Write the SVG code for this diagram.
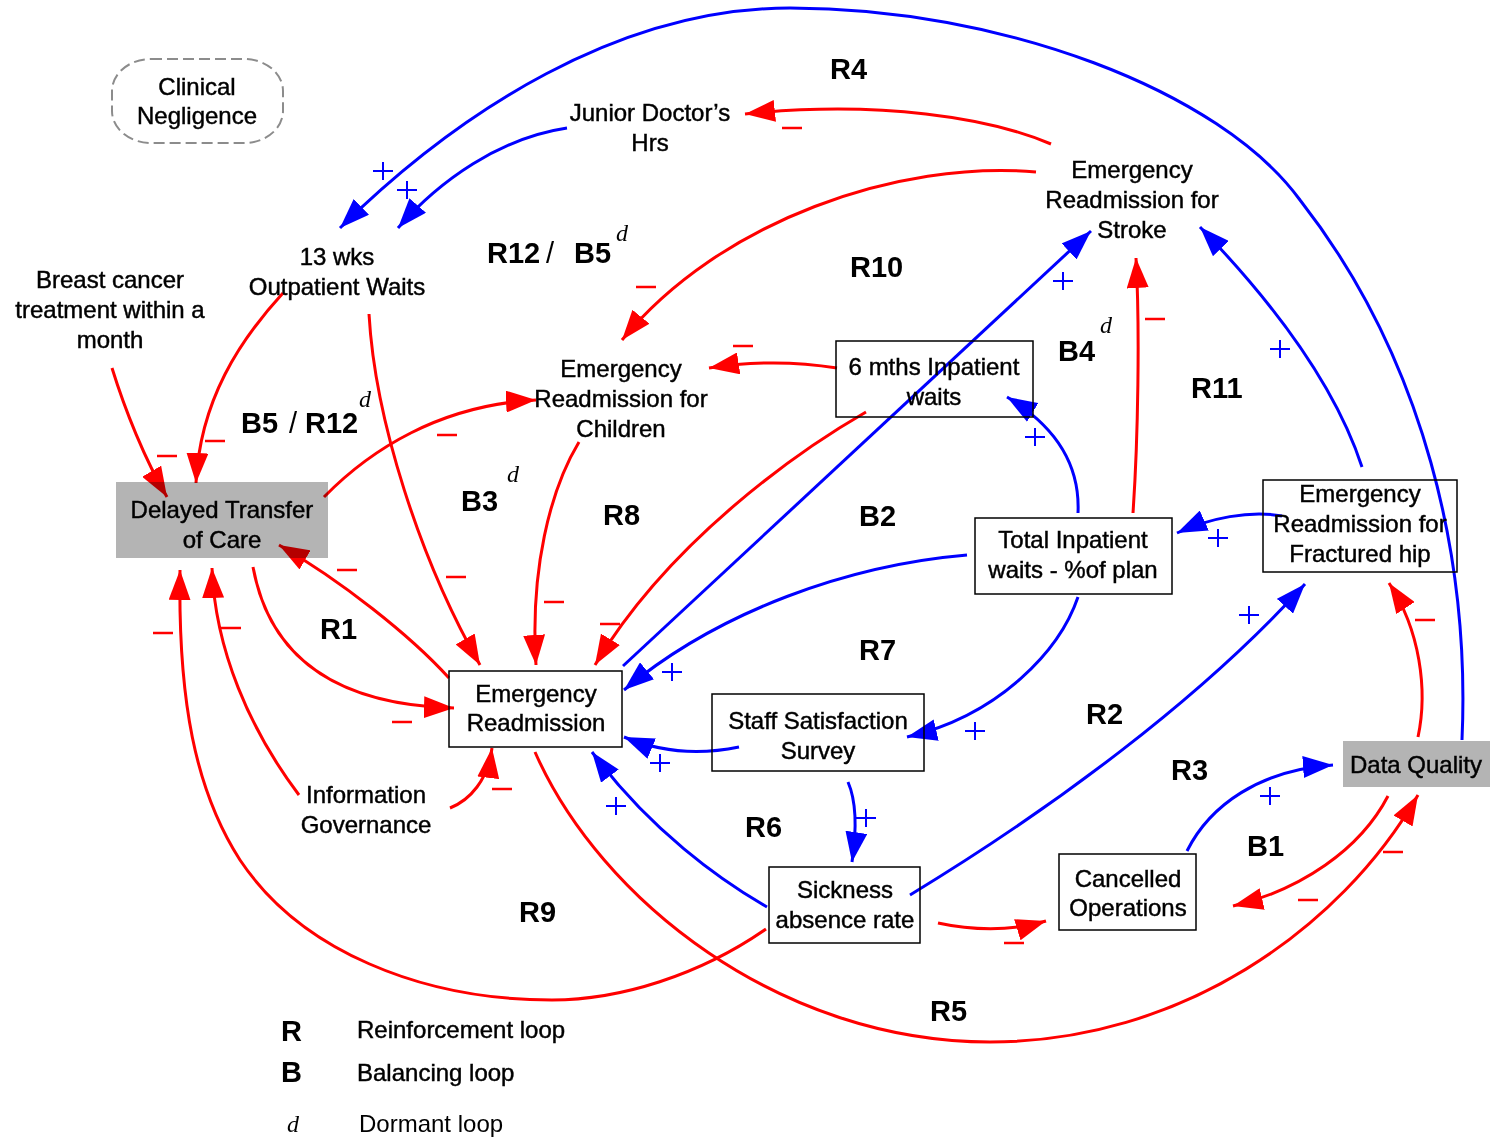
<svg xmlns="http://www.w3.org/2000/svg" width="1493" height="1139" viewBox="0 0 1493 1139">
<defs>
<style>
.t{font-family:"Liberation Sans",Arial,sans-serif;font-size:24px;fill:#000;stroke:#000;stroke-width:0.45;text-anchor:middle}
.lp{font-family:"Liberation Sans",Arial,sans-serif;font-size:29px;font-weight:bold;fill:#000}
.lg{font-family:"Liberation Sans",Arial,sans-serif;font-size:24px;fill:#000}
.dm{font-family:"Liberation Serif","Times New Roman",serif;font-style:italic;font-size:24px;fill:#000}
.box{fill:#fff;stroke:#000;stroke-width:1.5;mix-blend-mode:multiply}
.gbox{fill:#b4b4b4;stroke:none;mix-blend-mode:multiply}
.pos{fill:none;stroke:#0000ff;stroke-width:3;marker-end:url(#ab)}
.neg{fill:none;stroke:#ff0000;stroke-width:3;marker-end:url(#ar)}
</style>
<marker id="ab" markerUnits="userSpaceOnUse" viewBox="0 0 30 22" markerWidth="30" markerHeight="22" refX="30" refY="11" orient="auto"><path d="M0,0 L30,11 L0,22 z" fill="#0000ff"/></marker>
<marker id="ar" markerUnits="userSpaceOnUse" viewBox="0 0 30 22" markerWidth="30" markerHeight="22" refX="30" refY="11" orient="auto"><path d="M0,0 L30,11 L0,22 z" fill="#ff0000"/></marker>
<path id="pl" d="M-10,0H10M0,-9V9" stroke="#0000ff" stroke-width="2" fill="none"/>
<path id="mn" d="M-10,0H10" stroke="#ff0000" stroke-width="2.5" fill="none"/>
</defs>
<rect x="0" y="0" width="1493" height="1139" fill="#fff"/>

<g id="connectors">
<path class="pos" d="M1462,740 C1470,560 1425,360 1300,200 C1220,90 1000,8 790,8 C620,8 460,110 340,228"/>
<path class="pos" d="M567,128 C500,138 440,180 398,228"/>
<path class="pos" d="M1362,467 C1340,400 1290,320 1200,227"/>
<path class="pos" d="M623,666 L1091,231"/>
<path class="pos" d="M1078,513 C1080,470 1062,430 1007,397"/>
<path class="pos" d="M1282,516 C1250,510 1210,518 1177,533"/>
<path class="pos" d="M967,555 C850,565 720,610 624,690"/>
<path class="pos" d="M1078,597 C1060,650 1000,715 907,737"/>
<path class="pos" d="M739,747 C700,755 660,752 624,737"/>
<path class="pos" d="M848,782 C858,805 856,835 852,862"/>
<path class="pos" d="M767,907 C720,880 650,830 592,752"/>
<path class="pos" d="M910,895 C1050,810 1200,700 1305,584"/>
<path class="pos" d="M1187,851 C1210,805 1260,770 1333,765"/>

<path class="neg" d="M1051,144 C990,118 880,100 745,114"/>
<path class="neg" d="M1036,172 C900,160 720,220 622,340"/>
<path class="neg" d="M837,368 C800,362 760,360 709,368"/>
<path class="neg" d="M866,412 C800,450 670,540 595,665"/>
<path class="neg" d="M579,442 C550,490 530,570 536,665"/>
<path class="neg" d="M369,314 C375,420 420,560 480,665"/>
<path class="neg" d="M324,497 C370,450 440,405 536,400"/>
<path class="neg" d="M112,368 C125,410 145,460 167,497"/>
<path class="neg" d="M283,293 C240,340 200,400 196,483"/>
<path class="neg" d="M449,678 C410,635 340,580 279,545"/>
<path class="neg" d="M253,567 C270,660 340,705 454,708"/>
<path class="neg" d="M299,795 C250,730 215,650 212,568"/>
<path class="neg" d="M450,808 C470,800 488,780 492,748"/>
<path class="neg" d="M766,929 C700,975 620,1000 552,1000 C420,1000 300,950 240,860 C195,790 178,700 180,570"/>
<path class="neg" d="M535,752 C600,900 780,1042 990,1042 C1180,1042 1340,930 1418,795"/>
<path class="neg" d="M1388,796 C1360,850 1300,890 1233,906"/>
<path class="neg" d="M1418,737 C1428,690 1420,630 1389,583"/>
<path class="neg" d="M1133,513 C1138,440 1140,330 1136,258"/>
<path class="neg" d="M938,923 C970,930 1010,932 1046,921"/>

<use href="#pl" x="383" y="171"/>
<use href="#pl" x="407" y="190"/>
<use href="#pl" x="1063" y="281"/>
<use href="#pl" x="1280" y="349"/>
<use href="#pl" x="1035" y="437"/>
<use href="#pl" x="1218" y="538"/>
<use href="#pl" x="1249" y="615"/>
<use href="#pl" x="672" y="672"/>
<use href="#pl" x="660" y="763"/>
<use href="#pl" x="616" y="806"/>
<use href="#pl" x="866" y="818"/>
<use href="#pl" x="975" y="731"/>
<use href="#pl" x="1270" y="796"/>

<use href="#mn" x="792" y="128"/>
<use href="#mn" x="646" y="287"/>
<use href="#mn" x="743" y="346"/>
<use href="#mn" x="1155" y="319"/>
<use href="#mn" x="456" y="577"/>
<use href="#mn" x="554" y="602"/>
<use href="#mn" x="610" y="624"/>
<use href="#mn" x="447" y="435"/>
<use href="#mn" x="347" y="570"/>
<use href="#mn" x="231" y="628"/>
<use href="#mn" x="167" y="456"/>
<use href="#mn" x="215" y="441"/>
<use href="#mn" x="402" y="722"/>
<use href="#mn" x="502" y="789"/>
<use href="#mn" x="163" y="633"/>
<use href="#mn" x="1393" y="852"/>
<use href="#mn" x="1308" y="900"/>
<use href="#mn" x="1425" y="620"/>
<use href="#mn" x="1014" y="943"/>
</g>

<g id="clinical-negligence">
<rect x="112" y="59" width="171" height="84" rx="39" ry="32" fill="none" stroke="#8c8c8c" stroke-width="2" stroke-dasharray="11 5"/>
<text class="t"><tspan x="197" y="95">Clinical</tspan><tspan x="197" y="124">Negligence</tspan></text>
</g>
<g id="junior-doctors-hrs">
<text class="t"><tspan x="650" y="121">Junior Doctor’s</tspan><tspan x="650" y="151">Hrs</tspan></text>
</g>
<g id="outpatient-waits">
<text class="t"><tspan x="337" y="265">13 wks</tspan><tspan x="337" y="295">Outpatient Waits</tspan></text>
</g>
<g id="breast-cancer">
<text class="t"><tspan x="110" y="288">Breast cancer</tspan><tspan x="110" y="318">treatment within a</tspan><tspan x="110" y="348">month</tspan></text>
</g>
<g id="delayed-transfer">
<rect class="gbox" x="116" y="482" width="212" height="76"/>
<text class="t"><tspan x="222" y="518">Delayed Transfer</tspan><tspan x="222" y="548">of Care</tspan></text>
</g>
<g id="readmission-children">
<text class="t"><tspan x="621" y="377">Emergency</tspan><tspan x="621" y="407">Readmission for</tspan><tspan x="621" y="437">Children</tspan></text>
</g>
<g id="six-mths-inpatient">
<rect class="box" x="836" y="341" width="197" height="76"/>
<text class="t"><tspan x="934" y="375">6 mths Inpatient</tspan><tspan x="934" y="405">waits</tspan></text>
</g>
<g id="readmission-stroke">
<text class="t"><tspan x="1132" y="178">Emergency</tspan><tspan x="1132" y="208">Readmission for</tspan><tspan x="1132" y="238">Stroke</tspan></text>
</g>
<g id="total-inpatient">
<rect class="box" x="975" y="518" width="197" height="76"/>
<text class="t"><tspan x="1073" y="548">Total Inpatient</tspan><tspan x="1073" y="578">waits - %of plan</tspan></text>
</g>
<g id="readmission-hip">
<rect class="box" x="1263" y="480" width="194" height="92"/>
<text class="t"><tspan x="1360" y="502">Emergency</tspan><tspan x="1360" y="532">Readmission for</tspan><tspan x="1360" y="562">Fractured hip</tspan></text>
</g>
<g id="data-quality">
<rect class="gbox" x="1343" y="741" width="147" height="46"/>
<text class="t" x="1416" y="773">Data Quality</text>
</g>
<g id="cancelled-operations">
<rect class="box" x="1059" y="854" width="137" height="76"/>
<text class="t"><tspan x="1128" y="887">Cancelled</tspan><tspan x="1128" y="916">Operations</tspan></text>
</g>
<g id="sickness-absence">
<rect class="box" x="769" y="867" width="151" height="76"/>
<text class="t"><tspan x="845" y="898">Sickness</tspan><tspan x="845" y="928">absence rate</tspan></text>
</g>
<g id="staff-satisfaction">
<rect class="box" x="712" y="694" width="212" height="77"/>
<text class="t"><tspan x="818" y="729">Staff Satisfaction</tspan><tspan x="818" y="759">Survey</tspan></text>
</g>
<g id="emergency-readmission">
<rect class="box" x="449" y="671" width="173" height="76"/>
<text class="t"><tspan x="536" y="702">Emergency</tspan><tspan x="536" y="731">Readmission</tspan></text>
</g>
<g id="information-governance">
<text class="t"><tspan x="366" y="803">Information</tspan><tspan x="366" y="833">Governance</tspan></text>
</g>

<g id="loop-labels">
<text class="lp" x="830" y="79">R4</text>
<text class="lp"><tspan x="487" y="263">R12</tspan><tspan x="546" y="263" font-weight="normal">/</tspan><tspan x="574" y="263">B5</tspan></text>
<text class="dm" x="616" y="241">d</text>
<text class="lp" x="850" y="277">R10</text>
<text class="lp" x="1058" y="361">B4</text>
<text class="dm" x="1100" y="333">d</text>
<text class="lp" x="1191" y="398">R11</text>
<text class="lp"><tspan x="241" y="433">B5</tspan><tspan x="289" y="433" font-weight="normal">/</tspan><tspan x="305" y="433">R12</tspan></text>
<text class="dm" x="359" y="407">d</text>
<text class="lp" x="461" y="511">B3</text>
<text class="dm" x="507" y="482">d</text>
<text class="lp" x="603" y="525">R8</text>
<text class="lp" x="859" y="526">B2</text>
<text class="lp" x="320" y="639">R1</text>
<text class="lp" x="859" y="660">R7</text>
<text class="lp" x="1086" y="724">R2</text>
<text class="lp" x="1171" y="780">R3</text>
<text class="lp" x="1247" y="856">B1</text>
<text class="lp" x="745" y="837">R6</text>
<text class="lp" x="519" y="922">R9</text>
<text class="lp" x="930" y="1021">R5</text>
</g>

<g id="legend">
<text class="lp" x="281" y="1041" font-size="27">R</text>
<text class="lg" x="357" y="1038" stroke="#000" stroke-width="0.45">Reinforcement loop</text>
<text class="lp" x="281" y="1082" font-size="27">B</text>
<text class="lg" x="357" y="1081" stroke="#000" stroke-width="0.45">Balancing loop</text>
<text class="dm" x="287" y="1132" font-size="28">d</text>
<text class="lg" x="359" y="1132" font-size="26">Dormant loop</text>
</g>
</svg>
